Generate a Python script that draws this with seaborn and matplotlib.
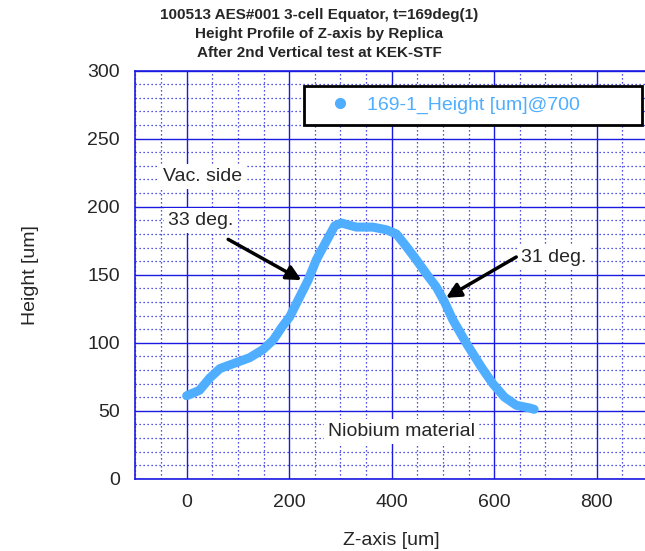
import seaborn as sns
import matplotlib.pyplot as plt
from matplotlib.lines import Line2D
from matplotlib.ticker import MultipleLocator

# Height profile
z_um = [0, 25, 45, 65, 94, 123, 149, 169, 185, 201, 217, 237, 253, 273, 289, 302,
        331, 363, 390, 409, 428, 448, 467, 487, 503, 519, 545, 575, 597, 620, 643, 669, 678]
height_um = [61, 65, 74, 81, 85, 89, 95, 102, 111, 119, 131, 146, 161, 175, 186, 188,
             185, 185, 183, 180, 171, 161, 151, 141, 130, 117, 100, 82, 70, 60, 54, 52, 51]

series_label = '169-1_Height [um]@700'
title_lines = ['100513 AES#001 3-cell Equator, t=169deg(1)',
               'Height Profile of Z-axis by Replica',
               'After 2nd Vertical test at KEK-STF']

line_color = '#4FAEFF'
grid_blue = '#1a1ae0'

sns.set_style('white')
plt.rcParams['font.family'] = ['Liberation Sans', 'DejaVu Sans']

fig = plt.figure(figsize=(6.45, 5.51), dpi=100)
ax = fig.add_axes([0.2099, 0.1312, 0.7947, 0.7405])

sns.lineplot(x=z_um, y=height_um, ax=ax, color=line_color, lw=6.5, sort=False,
             legend=False, solid_capstyle='round', solid_joinstyle='round', zorder=3)

ax.set_xlim(-100, 900)
ax.set_ylim(0, 300)
ax.xaxis.set_major_locator(MultipleLocator(200))
ax.xaxis.set_minor_locator(MultipleLocator(50))
ax.yaxis.set_major_locator(MultipleLocator(50))
ax.yaxis.set_minor_locator(MultipleLocator(10))

ax.set_axisbelow(True)
ax.grid(which='major', color=grid_blue, lw=1.0, ls='-')
ax.grid(which='minor', color=grid_blue, lw=0.9, ls=(0, (1, 2.2)))
for sp in ax.spines.values():
    sp.set_color(grid_blue)
    sp.set_linewidth(1.2)

ax.tick_params(which='both', length=0, labelsize=14, pad=11)
ax.set_xlabel('Z-axis [um]', fontsize=14, labelpad=15)
ax.set_ylabel('Height [um]', fontsize=14, labelpad=35)

fig.text(0.495, 0.985, '\n'.join(title_lines), ha='center', va='top',
         fontsize=11, fontweight='bold', linespacing=1.45)

# annotations
box = dict(facecolor='white', edgecolor='none', pad=3)
ax.text(-47, 222, 'Vac. side', fontsize=14, va='center', ha='left', bbox=box, zorder=4)
ax.text(-36, 190, '33 deg.', fontsize=14, va='center', ha='left', bbox=box, zorder=4)
ax.text(652, 163, '31 deg.', fontsize=14, va='center', ha='left', bbox=box, zorder=4)
ax.text(419, 35, 'Niobium material', fontsize=14, va='center', ha='center', bbox=box, zorder=4)

arrow = dict(arrowstyle='-|>', color='black', lw=2.5, mutation_scale=22, shrinkA=0, shrinkB=0)
ax.annotate('', xy=(224, 146), xytext=(81, 176), arrowprops=arrow, zorder=5)
ax.annotate('', xy=(506, 133), xytext=(643, 163), arrowprops=arrow, zorder=5)

handle = Line2D([], [], color=line_color, marker='o', ls='none', markersize=7)
leg = ax.legend(handles=[handle], labels=[series_label], loc='upper left',
                bbox_to_anchor=(0.3295, 0.9625, 0.6582, 0.0), mode='expand',
                borderaxespad=0, fontsize=14, borderpad=0.55, handlelength=2.6,
                handletextpad=0.1, fancybox=False, framealpha=1, edgecolor='black')
leg.get_frame().set_linewidth(2.0)
for t in leg.get_texts():
    t.set_color(line_color)

plt.savefig('out.png', dpi=100)
